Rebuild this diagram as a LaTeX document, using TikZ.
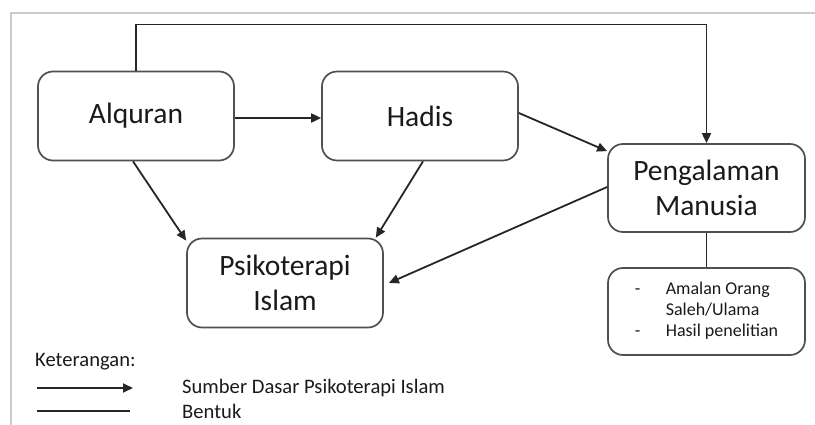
\documentclass[tikz,border=0pt]{standalone}
\usepackage{fontspec}
\setmainfont{Carlito}
\usepackage{xcolor}
\usepackage{tikz}
\usetikzlibrary{arrows.meta,positioning}

\definecolor{boxline}{HTML}{505050}
\definecolor{arrline}{HTML}{262626}
\definecolor{frameline}{HTML}{CCCCCC}
\definecolor{textcol}{HTML}{1A1A1A}

\begin{document}
\begin{tikzpicture}[x=1pt, y=-1pt,
    every node/.style={text=textcol},
    mainbox/.style={draw=boxline, line width=1.7pt, rounded corners=15pt,
      minimum width=196pt, minimum height=89pt, align=center,
      font=\fontsize{29.5}{35}\selectfont},
    subbox/.style={draw=boxline, line width=1.7pt, rounded corners=15pt,
      minimum width=197pt, minimum height=87pt, align=left,
      font=\fontsize{18}{21}\selectfont},
    legtext/.style={anchor=west, inner sep=0pt, font=\fontsize{20.6}{24}\selectfont},
    source/.style={draw=arrline, line width=1.8pt,
      -{Triangle[length=10pt,width=9pt]}},
    form/.style={draw=arrline, line width=1.8pt}]
  \useasboundingbox (0,0) rectangle (815,425);
  % page frame
  \draw[frameline, line width=1.6pt] (11,425) -- (11,13) -- (815,13);

  % main boxes
  \node[mainbox] (alquran) at (136,116) {Alquran};
  \node[mainbox] (hadis) at (420,116) {Hadis};
  \node[mainbox, minimum width=197pt, minimum height=88pt] (peng)
    at (706.5,188) {Pengalaman\\Manusia};
  \node[mainbox] (psiko) at (285,283) {Psikoterapi\\Islam};
  % forms of human experience
  \node[subbox] (forms) at (706.5,311.5) {%
    \begin{tabular}{@{}p{31pt}@{}l@{}}
      - & Amalan Orang\\
        & Saleh/Ulama\\
      - & Hasil penelitian
    \end{tabular}};

  % connectors
  \draw[source] (alquran.north) -- (alquran.north |- 0,24.5)
    -- (peng.north |- 0,24.5) -- (peng.north);
  \draw[source] ([yshift=-2pt]alquran.east) -- ([yshift=-2pt]hadis.west);
  \draw[source] ([yshift=3pt]hadis.east) -- ([yshift=-8pt]peng.north west);
  \draw[source] ([xshift=-3pt]alquran.south) -- ([yshift=-3pt]psiko.north west);
  \draw[source] ([xshift=3pt]hadis.south) -- ([xshift=-8pt]psiko.north east);
  \draw[source] ([yshift=1pt]peng.west) -- ([xshift=5pt]psiko.east);
  \draw[form] (peng.south) -- (forms.north);

  % legend
  \node[legtext] (keterangan) at (35,362) {Keterangan:};
  \coordinate (srcA) at (37,388);
  \coordinate (srcB) at (133,388);
  \coordinate (formA) at (37,411);
  \coordinate (formB) at (130,411);
  \draw[source] (srcA) -- (srcB);
  \draw[form] (formA) -- (formB);
  \node[legtext] (srclabel) at (182,388) {Sumber Dasar Psikoterapi Islam};
  \node[legtext] (formlabel) at (182,411) {Bentuk};
\end{tikzpicture}
\end{document}
